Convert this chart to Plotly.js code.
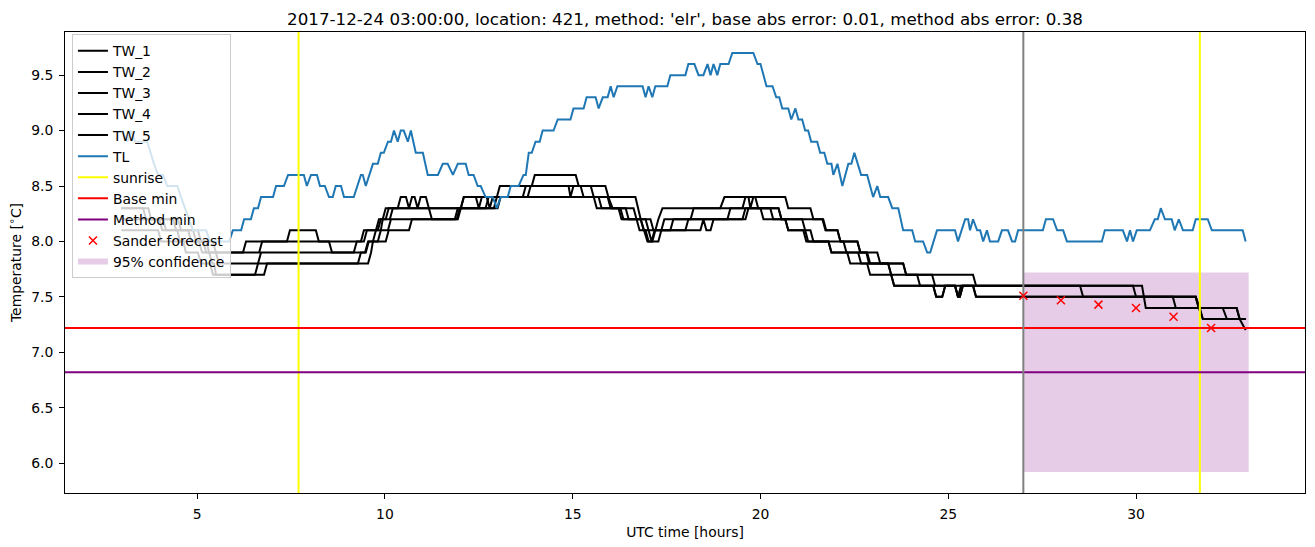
<!DOCTYPE html>
<html><head><meta charset="utf-8">
<script src="https://cdn.plot.ly/plotly-3.0.1.min.js"></script>
<style>html,body{margin:0;padding:0;background:#fff}#chart{width:1315px;height:547px}</style>
</head><body><div id="chart"></div>
<script>
// ---- data (time in UTC hours, temperature in deg C) ----
const TL = [[2.98,9.0],[3.14,8.9],[3.24,9.0],[3.35,8.9],[3.67,8.9],[3.75,8.8],[3.85,8.7],[3.96,8.6],[4.09,8.6],[4.20,8.5],
[4.47,8.5],[4.57,8.4],[4.68,8.3],[4.78,8.2],[4.89,8.1],[5.24,8.1],[5.34,8.0],[5.85,8.0],[5.95,8.1],[6.17,8.1],
[6.25,8.2],[6.43,8.2],[6.51,8.3],[6.62,8.3],[6.70,8.4],[7.02,8.4],[7.10,8.5],[7.31,8.5],[7.42,8.6],[7.84,8.6],
[7.92,8.5],[8.03,8.6],[8.19,8.6],[8.27,8.5],[8.40,8.5],[8.51,8.4],[8.61,8.4],[8.69,8.5],[8.83,8.5],[8.91,8.4],
[9.17,8.4],[9.36,8.6],[9.41,8.6],[9.49,8.5],[9.68,8.7],[9.81,8.7],[9.89,8.8],[9.97,8.8],[10.08,8.9],[10.16,8.9],
[10.24,9.0],[10.34,8.9],[10.42,9.0],[10.50,9.0],[10.61,8.9],[10.69,9.0],[10.82,8.8],[11.01,8.8],[11.14,8.6],[11.41,8.6],
[11.54,8.7],[11.67,8.7],[11.81,8.6],[11.94,8.7],[12.15,8.7],[12.23,8.6],[12.36,8.6],[12.47,8.5],[12.55,8.5],[12.68,8.4],
[12.87,8.4],[12.98,8.3],[13.08,8.4],[13.27,8.4],[13.35,8.5],[13.56,8.5],[13.69,8.6],[13.75,8.6],[13.83,8.8],[13.91,8.8],
[14.01,8.9],[14.12,8.9],[14.20,9.0],[14.49,9.0],[14.60,9.1],[14.94,9.1],[15.02,9.2],[15.29,9.2],[15.37,9.3],[15.61,9.3],
[15.69,9.2],[15.80,9.3],[15.93,9.3],[16.01,9.4],[16.09,9.3],[16.19,9.4],[16.86,9.4],[16.94,9.3],[17.02,9.4],[17.12,9.3],
[17.20,9.4],[17.52,9.4],[17.60,9.5],[18.00,9.5],[18.08,9.6],[18.24,9.6],[18.35,9.5],[18.48,9.5],[18.59,9.6],[18.67,9.5],
[18.75,9.6],[18.85,9.5],[18.93,9.6],[19.15,9.6],[19.25,9.7],[19.81,9.7],[19.92,9.6],[20.00,9.6],[20.16,9.4],[20.32,9.4],
[20.42,9.3],[20.50,9.3],[20.58,9.2],[20.74,9.2],[20.82,9.1],[20.93,9.2],[21.01,9.1],[21.11,9.1],[21.19,9.0],[21.27,9.0],
[21.35,8.9],[21.51,8.9],[21.59,8.8],[21.70,8.8],[21.78,8.7],[21.89,8.7],[21.94,8.6],[22.05,8.7],[22.18,8.5],[22.34,8.7],
[22.42,8.7],[22.50,8.8],[22.68,8.6],[22.84,8.6],[23.00,8.4],[23.11,8.5],[23.19,8.4],[23.40,8.4],[23.51,8.3],[23.67,8.3],
[23.80,8.1],[24.04,8.1],[24.12,8.0],[24.33,8.0],[24.44,7.9],[24.52,7.9],[24.70,8.1],[25.18,8.1],[25.26,8.0],[25.45,8.2],
[25.53,8.2],[25.58,8.1],[25.66,8.2],[25.77,8.1],[25.85,8.1],[25.93,8.0],[26.03,8.1],[26.11,8.0],[26.33,8.0],[26.43,8.1],
[26.59,8.1],[26.70,8.0],[26.78,8.0],[26.86,8.1],[27.52,8.1],[27.60,8.2],[27.79,8.2],[27.90,8.1],[28.06,8.1],[28.16,8.0],
[29.09,8.0],[29.17,8.1],[29.65,8.1],[29.76,8.0],[29.84,8.1],[29.92,8.0],[30.02,8.1],[30.37,8.1],[30.50,8.2],[30.58,8.2],
[30.66,8.3],[30.77,8.2],[30.95,8.2],[31.03,8.1],[31.14,8.2],[31.25,8.1],[31.51,8.1],[31.59,8.2],[31.91,8.2],[32.02,8.1],
[32.84,8.1],[32.92,8.0]];

const TW_1 = [[2.98,8.2],[4.36,8.2],[4.44,8.1],[5.02,8.1],[5.10,8.0],[5.42,8.0],[5.50,7.9],[6.22,7.9],[6.30,8.0],[7.39,8.0],
[7.47,8.1],[8.16,8.1],[8.24,8.0],[9.36,8.0],[9.44,8.1],[9.76,8.1],[9.84,8.2],[9.94,8.2],[10.02,8.3],[10.34,8.3],
[10.42,8.4],[10.56,8.4],[10.64,8.3],[10.72,8.4],[10.79,8.4],[10.87,8.3],[10.95,8.4],[11.09,8.4],[11.17,8.3],[11.25,8.2],
[11.86,8.2],[11.94,8.3],[12.02,8.3],[12.10,8.4],[12.42,8.4],[12.50,8.3],[12.58,8.4],[13.67,8.4],[13.75,8.5],[13.91,8.5],
[13.99,8.6],[15.08,8.6],[15.16,8.5],[15.48,8.5],[15.56,8.4],[15.64,8.3],[16.22,8.3],[16.30,8.2],[16.81,8.2],[16.91,8.1],
[16.99,8.0],[17.12,8.0],[17.20,8.1],[17.28,8.2],[17.39,8.3],[18.93,8.3],[19.04,8.4],[20.66,8.4],[20.74,8.3],[21.33,8.3],
[21.41,8.2],[21.67,8.2],[21.75,8.1],[22.05,8.1],[22.13,8.0],[22.58,8.0],[22.66,7.9],[22.84,7.9],[22.92,7.8],[23.80,7.8],
[23.88,7.7],[25.66,7.7],[25.74,7.6],[28.51,7.6],[28.59,7.5],[31.59,7.5],[31.67,7.4],[31.78,7.3],[32.92,7.3]];

const TW_2 = [[2.98,8.2],[4.09,8.2],[4.17,8.1],[4.76,8.1],[4.84,8.0],[5.16,8.0],[5.24,7.9],[6.65,7.9],[6.73,8.0],[8.51,8.0],
[8.59,7.9],[9.17,7.9],[9.25,8.0],[9.44,8.0],[9.52,8.1],[9.81,8.1],[9.89,8.2],[10.02,8.2],[10.10,8.3],[12.90,8.3],
[12.98,8.4],[13.06,8.5],[14.89,8.5],[14.94,8.4],[15.02,8.5],[15.21,8.5],[15.29,8.4],[15.93,8.4],[16.01,8.3],[16.27,8.3],
[16.35,8.2],[16.70,8.2],[16.78,8.1],[16.94,8.1],[17.02,8.0],[17.28,8.0],[17.36,8.1],[17.44,8.2],[18.14,8.2],[18.22,8.3],
[19.52,8.3],[19.60,8.4],[19.68,8.4],[19.73,8.3],[19.81,8.4],[19.86,8.4],[19.94,8.3],[20.48,8.3],[20.56,8.2],[20.66,8.2],
[20.74,8.1],[21.14,8.1],[21.22,8.0],[21.81,8.0],[21.89,7.9],[22.31,7.9],[22.39,7.8],[22.84,7.8],[22.92,7.7],[24.17,7.7],
[24.25,7.6],[24.60,7.6],[24.68,7.5],[24.84,7.5],[24.92,7.6],[29.92,7.6],[30.00,7.5],[31.59,7.5],[31.70,7.4],[32.68,7.4],
[32.76,7.3],[32.92,7.2]];

const TW_3 = [[2.98,8.3],[3.70,8.3],[3.77,8.2],[4.49,8.2],[4.57,8.1],[4.89,8.1],[4.97,8.0],[5.24,8.0],[5.32,7.9],[5.50,7.9],
[5.58,7.8],[6.62,7.8],[6.70,7.9],[9.49,7.9],[9.57,8.0],[9.68,8.0],[9.76,8.1],[10.08,8.1],[10.16,8.2],[11.94,8.2],
[12.02,8.3],[13.00,8.3],[13.08,8.4],[13.80,8.4],[13.88,8.5],[15.87,8.5],[15.95,8.4],[16.06,8.3],[16.62,8.3],[16.70,8.2],
[16.81,8.2],[16.89,8.1],[17.02,8.1],[17.10,8.0],[17.18,8.1],[17.60,8.1],[17.68,8.2],[19.12,8.2],[19.20,8.3],[20.00,8.3],
[20.08,8.2],[21.11,8.2],[21.19,8.1],[21.33,8.1],[21.41,8.0],[22.21,8.0],[22.29,7.9],[22.60,7.9],[22.68,7.8],[23.40,7.8],
[23.48,7.7],[23.56,7.6],[25.18,7.6],[25.26,7.5],[25.31,7.5],[25.39,7.6],[30.16,7.6],[30.26,7.4],[32.31,7.4],[32.42,7.3],
[32.92,7.3]];

const TW_4 = [[2.98,8.1],[3.96,8.1],[4.04,8.0],[4.63,8.0],[4.70,7.9],[5.02,7.9],[5.10,7.8],[5.34,7.8],[5.42,7.7],[6.54,7.7],
[6.62,7.8],[9.28,7.8],[9.36,7.9],[9.47,7.9],[9.55,8.0],[10.02,8.0],[10.10,8.1],[10.64,8.1],[10.72,8.2],[11.91,8.2],
[11.99,8.3],[12.68,8.3],[12.76,8.4],[15.69,8.4],[15.77,8.3],[16.41,8.3],[16.49,8.2],[16.94,8.2],[17.02,8.1],[18.00,8.1],
[18.08,8.2],[19.60,8.2],[19.68,8.3],[20.26,8.3],[20.34,8.2],[21.65,8.2],[21.73,8.1],[22.05,8.1],[22.13,8.0],[22.58,8.0],
[22.66,7.9],[23.11,7.9],[23.19,7.8],[23.80,7.8],[23.88,7.7],[24.57,7.7],[24.65,7.6],[25.18,7.6],[25.26,7.5],[25.31,7.5],
[25.39,7.6],[25.66,7.6],[25.74,7.5],[30.98,7.5],[31.06,7.4],[31.70,7.4],[31.78,7.3],[32.92,7.3]];

const TW_5 = [[2.98,8.3],[3.56,8.3],[3.64,8.2],[3.99,8.2],[4.07,8.1],[4.47,8.1],[4.54,8.0],[5.05,8.0],[5.13,7.9],[5.32,7.9],
[5.40,7.8],[5.45,7.8],[5.50,7.7],[6.78,7.7],[6.86,7.8],[9.55,7.8],[9.63,7.9],[9.68,8.0],[9.81,8.0],[9.89,8.1],
[9.94,8.2],[10.13,8.2],[10.21,8.3],[12.02,8.3],[12.10,8.4],[12.71,8.4],[12.79,8.3],[12.87,8.4],[16.67,8.4],[16.73,8.3],
[16.81,8.2],[17.07,8.2],[17.15,8.1],[18.40,8.1],[18.48,8.2],[18.56,8.1],[18.67,8.1],[18.75,8.2],[19.52,8.2],[19.60,8.3],
[20.48,8.3],[20.56,8.2],[20.66,8.2],[20.74,8.1],[21.19,8.1],[21.27,8.0],[21.81,8.0],[21.89,7.9],[22.82,7.9],[22.89,7.8],
[23.40,7.8],[23.48,7.7],[23.56,7.6],[24.60,7.6],[24.68,7.5],[24.84,7.5],[24.92,7.6],[25.18,7.6],[25.26,7.5],[25.34,7.6],
[25.66,7.6],[25.74,7.5],[31.59,7.5],[31.67,7.4],[32.68,7.4],[32.76,7.3],[32.92,7.3]];

const SUNRISE = [7.70, 31.70];
const FORECAST_TIME = 27.0;
const BASE_MIN = 7.22;
const METHOD_MIN = 6.82;
const SANDER_T = [27, 28, 29, 30, 31, 32];
const SANDER_V = [7.51, 7.47, 7.43, 7.40, 7.32, 7.22];
const CONF_T = [27.0, 33.0];
const CONF_LO = 5.92, CONF_HI = 7.72;

// ---- layout settings ----
const X_RANGE = [1.48, 34.5];
const Y_RANGE = [5.731, 9.889];
const FONT = 'DejaVu Sans, Arial, sans-serif';

const xs = p => p.map(d => d[0]);
const ys = p => p.map(d => d[1]);

const traces = [];
// confidence band (bottom layer)
traces.push({
  x: [CONF_T[0], CONF_T[1], CONF_T[1], CONF_T[0]],
  y: [CONF_LO, CONF_LO, CONF_HI, CONF_HI],
  fill: 'toself', mode: 'none', fillcolor: 'rgba(128,0,128,0.2)',
  name: '95% confidence', legendrank: 11, hoverinfo: 'skip'
});
[TW_1, TW_2, TW_3, TW_4, TW_5].forEach((s, i) => traces.push({
  x: xs(s), y: ys(s), mode: 'lines', line: {color: 'black', width: 2},
  name: 'TW_' + (i + 1), legendrank: i + 1
}));
traces.push({x: xs(TL), y: ys(TL), mode: 'lines', line: {color: '#1f77b4', width: 2}, name: 'TL', legendrank: 6});
// sunrise vertical lines
const sx = [], sy = [];
SUNRISE.forEach(t => { sx.push(t, t, null); sy.push(Y_RANGE[0], Y_RANGE[1], null); });
traces.push({x: sx, y: sy, mode: 'lines', line: {color: '#ffff00', width: 2}, name: 'sunrise', legendrank: 7});
traces.push({x: X_RANGE, y: [BASE_MIN, BASE_MIN], mode: 'lines', line: {color: '#ff0000', width: 2}, name: 'Base min', legendrank: 8});
traces.push({x: X_RANGE, y: [METHOD_MIN, METHOD_MIN], mode: 'lines', line: {color: '#800080', width: 2}, name: 'Method min', legendrank: 9});
traces.push({x: [FORECAST_TIME, FORECAST_TIME], y: Y_RANGE, mode: 'lines', line: {color: '#808080', width: 2}, showlegend: false});
traces.push({x: SANDER_T, y: SANDER_V, mode: 'markers', name: 'Sander forecast', legendrank: 10,
  marker: {symbol: 'x-thin-open', size: 8, color: '#ff0000', line: {color: '#ff0000', width: 1.5}}});

const axisCommon = {
  showline: true, linecolor: 'black', linewidth: 1, mirror: true,
  ticks: 'outside', ticklen: 5, tickwidth: 1, tickcolor: 'black',
  showgrid: false, zeroline: false, automargin: false,
  tickfont: {family: FONT, size: 13.9, color: 'black'}
};

const layout = {
  width: 1315, height: 547,
  margin: {l: 65, r: 10, t: 32, b: 54},
  paper_bgcolor: 'white', plot_bgcolor: 'white',
  font: {family: FONT, color: 'black'},
  title: {text: "2017-12-24 03:00:00, location: 421, method: 'elr', base abs error: 0.01, method abs error: 0.38",
    font: {family: FONT, size: 16.7, color: 'black'}, x: 0.5, xref: 'paper', xanchor: 'center',
    y: 1, yref: 'paper', yanchor: 'bottom', pad: {b: 7}},
  xaxis: Object.assign({}, axisCommon, {range: X_RANGE, tickmode: 'linear', tick0: 0, dtick: 5,
    ticklabelstandoff: 3,
    title: {text: 'UTC time [hours]', font: {family: FONT, size: 13.9, color: 'black'}, standoff: 6}}),
  yaxis: Object.assign({}, axisCommon, {range: Y_RANGE, tickmode: 'linear', tick0: 6, dtick: 0.5, tickformat: '.1f',
    ticklabelstandoff: 3,
    title: {text: 'Temperature [<sup>∘</sup>C]', font: {family: FONT, size: 13.9, color: 'black'}, standoff: 6}}),
  showlegend: true,
  legend: {x: 0.0056, y: 0.995, xanchor: 'left', yanchor: 'top', traceorder: 'normal',
    bgcolor: 'rgba(255,255,255,0.8)', bordercolor: '#cccccc', borderwidth: 1,
    font: {family: FONT, size: 13.9, color: 'black'}},
  hovermode: false
};

Plotly.newPlot('chart', traces, layout, {displayModeBar: false, staticPlot: true});
</script>
</body></html>
